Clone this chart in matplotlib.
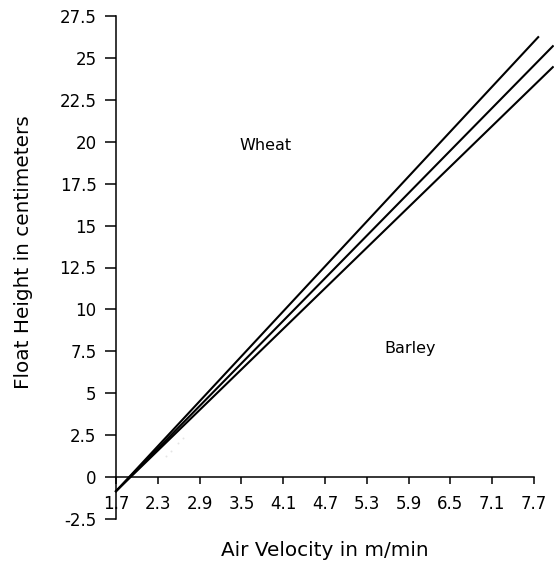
import matplotlib
matplotlib.use("Agg")
import matplotlib.pyplot as plt
import numpy as np

# air velocity (m/min) and float height (cm) end points of the three lines
line_x = [[1.7, 7.76], [1.7, 7.97], [1.7, 7.97]]
line_y = [[-0.84, 26.24], [-0.84, 25.70], [-0.84, 24.45]]

# faint grey specks near the origin
speck_x = [2.42, 2.49, 2.59, 2.66]
speck_y = [1.26, 1.56, 2.03, 2.33]

xticks = [1.7, 2.3, 2.9, 3.5, 4.1, 4.7, 5.3, 5.9, 6.5, 7.1, 7.7]
yticks = [-2.5, 0, 2.5, 5, 7.5, 10, 12.5, 15, 17.5, 20, 22.5, 25, 27.5]

plt.rcParams['font.family'] = 'DejaVu Sans'

fig = plt.figure(figsize=(5.54, 5.66), dpi=100)
ax = fig.add_axes([116 / 554, 47 / 566, 438 / 554, 503 / 566])

for xs, ys in zip(line_x, line_y):
    ax.plot(xs, ys, color='black', linewidth=1.5, clip_on=False)
ax.scatter(speck_x, speck_y, s=2, color='#e4e4e4', linewidths=0)

ax.text(3.85, 19.8, 'Wheat', fontsize=11.5, ha='center', va='center')
ax.text(5.92, 7.65, 'Barley', fontsize=11.5, ha='center', va='center')

ax.set_xlim(1.7, 1.7 + 438 / 69.67)
ax.set_ylim(-2.5, 27.5)

ax.spines['top'].set_visible(False)
ax.spines['right'].set_visible(False)
ax.spines['bottom'].set_position(('data', 0))
ax.spines['bottom'].set_bounds(1.7, 7.7)
ax.spines['left'].set_bounds(-2.5, 27.5)
for s in ['bottom', 'left']:
    ax.spines[s].set_linewidth(1.1)

ax.set_xticks(xticks)
ax.set_xticklabels([str(v) for v in xticks])
ax.set_yticks(yticks)
ax.set_yticklabels([('%g' % v) for v in yticks])
ax.tick_params(axis='x', direction='out', length=5, width=1.1, pad=8, labelsize=12)
ax.tick_params(axis='y', direction='out', length=8, width=1.1, pad=6, labelsize=12)

ax.set_xlabel('Air Velocity in m/min', fontsize=14.4)
ax.xaxis.set_label_coords(209 / 438, -0.043)
ax.set_ylabel('Float Height in centimeters', fontsize=14.4)
ax.yaxis.set_label_coords(-83 / 438, 0.531)

fig.savefig('out.png', dpi=100)
